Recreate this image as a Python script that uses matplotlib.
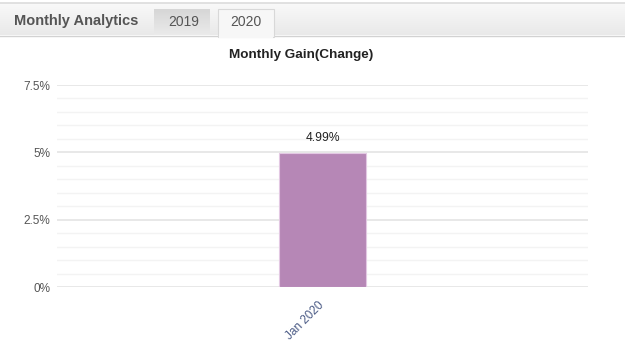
import matplotlib
matplotlib.use("Agg")
import matplotlib.pyplot as plt
import matplotlib.transforms as mtrans
import numpy as np
from matplotlib.patches import Rectangle

plt.rcParams['font.family'] = ['Liberation Sans', 'DejaVu Sans']

categories = ["Jan 2020"]
values = [4.99]
value_labels = ["4.99%"]
yticks = [0, 2.5, 5, 7.5]
ytick_labels = ["0%", "2.5%", "5%", "7.5%"]
tabs = ["2019", "2020"]

W, H = 625, 353
fig = plt.figure(figsize=(W / 100, H / 100), dpi=100)
fig.patch.set_facecolor("white")

def px(x, y, w, h):
    # convert pixel box (top-left origin) to figure fraction
    return [x / W, 1 - (y + h) / H, w / W, h / H]

# header band gradient
hax = fig.add_axes(px(0, 3, W, 32))
grad = np.linspace(0.975, 0.915, 50).reshape(-1, 1)
hax.imshow(np.dstack([grad, grad, grad]), aspect="auto", extent=[0, 1, 0, 1])
hax.set_axis_off()
fig.add_artist(plt.Line2D([0, 1], [1 - 2.5 / H, 1 - 2.5 / H], color="#dcdcdc", lw=1.2))
fig.add_artist(plt.Line2D([0, 1], [1 - 35.5 / H, 1 - 35.5 / H], color="#d2d2d2", lw=1))

# tab 2019 (darker gradient)
tax = fig.add_axes(px(154, 9, 56, 26))
g2 = np.linspace(0.84, 0.92, 50).reshape(-1, 1)
tax.imshow(np.dstack([g2, g2, g2]), aspect="auto", extent=[0, 1, 0, 1])
tax.set_axis_off()
# tab 2020 (active)
fig.add_artist(Rectangle((218 / W, 1 - 37 / H), 56 / W, 28 / H, transform=fig.transFigure,
                         facecolor="#f7f7f7", edgecolor="#d8d8d8", lw=0.8, zorder=3))
fig.add_artist(Rectangle((218.8 / W, 1 - 38 / H), 54.4 / W, 4 / H, transform=fig.transFigure,
                         facecolor="#f7f7f7", edgecolor="none", zorder=4))

fig.text(14 / W, 1 - 21 / H, "Monthly Analytics", fontsize=10.5, fontweight="bold",
         color="#555555", va="center", ha="left", zorder=5)
fig.text(184 / W, 1 - 22 / H, tabs[0], fontsize=10, color="#555555", va="center", ha="center", zorder=5)
fig.text(246 / W, 1 - 22 / H, tabs[1], fontsize=10, color="#555555", va="center", ha="center", zorder=5)

# title
fig.text(301 / W, 1 - 55 / H, "Monthly Gain(Change)", fontsize=9.7, fontweight="bold",
         color="#222222", va="center", ha="center")

ax = fig.add_axes(px(57, 85, 531, 202))
x = np.arange(len(categories))
bars = ax.bar(x, values, width=0.164, color="#b687b6", edgecolor="#e3c8e3", linewidth=0.8, zorder=3)
for xi, v, lab in zip(x, values, value_labels):
    ax.annotate(lab, (xi, v), xytext=(0, 6), textcoords="offset points", ha="center",
                va="bottom", fontsize=8.7, color="#222222")

ax.set_xlim(-0.5, 0.5)
ax.set_ylim(0, 7.5)
ax.set_yticks(yticks)
ax.set_yticklabels(ytick_labels)
ax.set_yticks(np.arange(0, 7.6, 0.5), minor=True)
ax.grid(True, axis="y", which="major", color="#e4e4e4", lw=1.2, zorder=0)
ax.grid(True, axis="y", which="minor", color="#f3f3f3", lw=1, zorder=0)
ax.tick_params(axis="y", which="both", length=0, pad=5, labelsize=8.5, labelcolor="#555555")
ax.tick_params(axis="y", which="minor", labelleft=False)
ax.set_xticks(x)
ax.set_xticklabels(categories, rotation=45, ha="right", rotation_mode="anchor",
                   fontsize=8.5, color="#4a5a85")
ax.tick_params(axis="x", length=0, pad=9)
shift = mtrans.ScaledTranslation(-5 / 100, 0, fig.dpi_scale_trans)
for t in ax.get_xticklabels():
    t.set_transform(t.get_transform() + shift)
for s in ax.spines.values():
    s.set_visible(False)
ax.set_facecolor("none")

fig.savefig("out.png", dpi=100, facecolor="white")
